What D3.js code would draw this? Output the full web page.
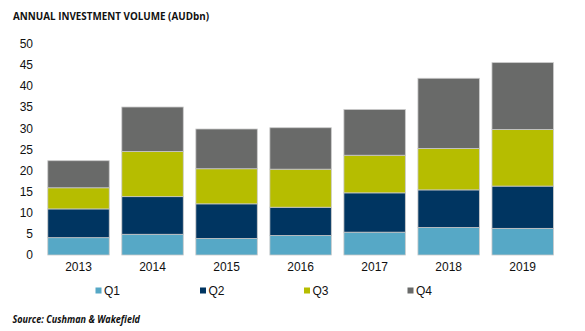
<!DOCTYPE html>
<html>
<head>
<meta charset="utf-8">
<script src="https://cdn.jsdelivr.net/npm/d3@7/dist/d3.min.js"></script>
<style>
  html, body { margin: 0; padding: 0; background: #ffffff; }
  svg { display: block; }
</style>
</head>
<body>
<svg id="chart" width="585" height="331"></svg>
<script>
const years = ["2013", "2014", "2015", "2016", "2017", "2018", "2019"];
const seriesNames = ["Q1", "Q2", "Q3", "Q4"];
const q1 = [4.1, 4.9, 3.9, 4.6, 5.4, 6.5, 6.3];
const q2 = [6.8, 8.9, 8.2, 6.7, 9.3, 8.9, 10.0];
const q3 = [5.0, 10.7, 8.3, 9.0, 8.9, 9.8, 13.4];
const q4 = [6.4, 10.5, 9.4, 9.8, 10.8, 16.6, 15.8];
const yTicks = [0, 5, 10, 15, 20, 25, 30, 35, 40, 45, 50];
const colors = ["#56a8c6", "#003561", "#b6bd00", "#696a69"];

const svg = d3.select("#chart");
const font = "'Liberation Sans', Arial, sans-serif";

const rows = years.map((y, i) => ({ year: y, Q1: q1[i], Q2: q2[i], Q3: q3[i], Q4: q4[i] }));
const stacked = d3.stack().keys(seriesNames)(rows);

const x = d3.scaleBand().domain(years).range([41.5, 559.7]).paddingInner(0.17).paddingOuter(0.085);
const y = d3.scaleLinear().domain([0, 50]).range([255, 43.6]);

// bars
svg.append("g").selectAll("g").data(stacked).join("g")
  .attr("fill", (d, i) => colors[i])
  .selectAll("rect").data(d => d).join("rect")
  .attr("x", d => x(d.data.year))
  .attr("width", x.bandwidth())
  .attr("y", d => y(d[1]))
  .attr("height", d => y(d[0]) - y(d[1]))
  .attr("stroke", "#c9c9c9")
  .attr("stroke-width", 0.8);

// y axis
const yAxis = svg.append("g").attr("transform", "translate(33,0)")
  .call(d3.axisLeft(y).tickValues(yTicks).tickSize(0).tickPadding(0));
yAxis.select(".domain").remove();
yAxis.selectAll("text").attr("font-family", font).attr("font-size", "12px").attr("fill", "#111");

// x axis
const xAxis = svg.append("g").attr("transform", "translate(0,260)")
  .call(d3.axisBottom(x).tickSize(0).tickPadding(2));
xAxis.select(".domain").remove();
xAxis.selectAll("text").attr("font-family", font).attr("font-size", "12px").attr("fill", "#111");

// title
svg.append("text").attr("x", 13).attr("y", 20)
  .attr("font-family", "'Open Sans', 'Liberation Sans', sans-serif")
  .attr("font-weight", "bold").attr("font-size", "11px").attr("fill", "#111")
  .attr("textLength", 196).attr("lengthAdjust", "spacingAndGlyphs")
  .text("ANNUAL INVESTMENT VOLUME (AUDbn)");

// legend
const legendX = [95.5, 200, 304, 407.5];
const lg = svg.append("g").selectAll("g").data(seriesNames).join("g")
  .attr("transform", (d, i) => `translate(${legendX[i]},287.5)`);
lg.append("rect").attr("width", 6).attr("height", 6).attr("fill", (d, i) => colors[i]);
lg.append("text").attr("x", 8.5).attr("y", 7.5)
  .attr("font-family", font).attr("font-size", "12px").attr("fill", "#111")
  .text(d => d);

// source
svg.append("text").attr("x", 12.5).attr("y", 323)
  .attr("font-family", "'Open Sans', 'Liberation Sans', sans-serif")
  .attr("font-weight", "bold").attr("font-style", "italic").attr("font-size", "10.5px").attr("fill", "#111")
  .attr("textLength", 127.5).attr("lengthAdjust", "spacingAndGlyphs")
  .text("Source: Cushman & Wakefield");
</script>
</body>
</html>
